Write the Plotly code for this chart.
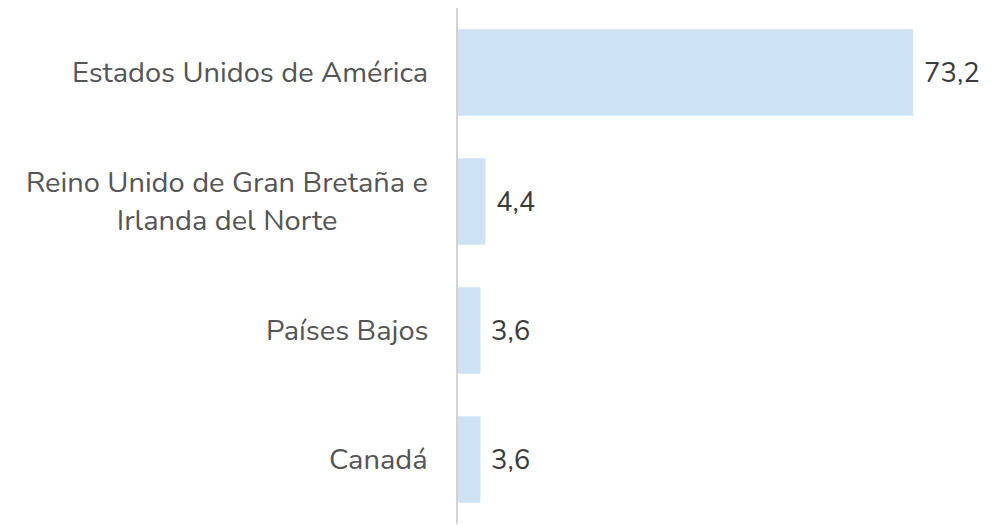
import plotly.graph_objects as go

countries = ["Estados Unidos de América", "Reino Unido de Gran Bretaña e<br>Irlanda del Norte", "Países Bajos", "Canadá"]
values = [73.2, 4.4, 3.6, 3.6]
value_labels = ["73,2", "4,4", "3,6", "3,6"]

FONT = "Nunito, 'Open Sans', Lato, sans-serif"

fig = go.Figure(go.Bar(
    x=values, y=countries, orientation="h",
    marker=dict(color="#cde3f3", line=dict(width=0)),
    hoverinfo="skip",
))

annotations = []
for c in countries:
    annotations.append(dict(
        x=0, xref="paper", y=c, yref="y", text=c, showarrow=False,
        xanchor="right", yanchor="middle", xshift=-28, align="center",
        font=dict(family=FONT, size=29, color="#555555"),
    ))
for c, v, t in zip(countries, values, value_labels):
    annotations.append(dict(
        x=v, xref="x", y=c, yref="y", text=t, showarrow=False,
        xanchor="left", yanchor="middle", xshift=9,
        font=dict(family=FONT, size=27.5, color="#3a3a3a"),
    ))

fig.update_layout(
    width=1000, height=525,
    margin=dict(l=450, r=65, t=0, b=9),
    paper_bgcolor="white", plot_bgcolor="white",
    bargap=0.33, showlegend=False,
    annotations=annotations,
    xaxis=dict(range=[0, 78], visible=False, fixedrange=True),
    yaxis=dict(autorange="reversed", showticklabels=False, showgrid=False,
               showline=True, linecolor="#d3d3d3", linewidth=2, zeroline=False,
               ticks=""),
)

fig.write_html("out.html")
